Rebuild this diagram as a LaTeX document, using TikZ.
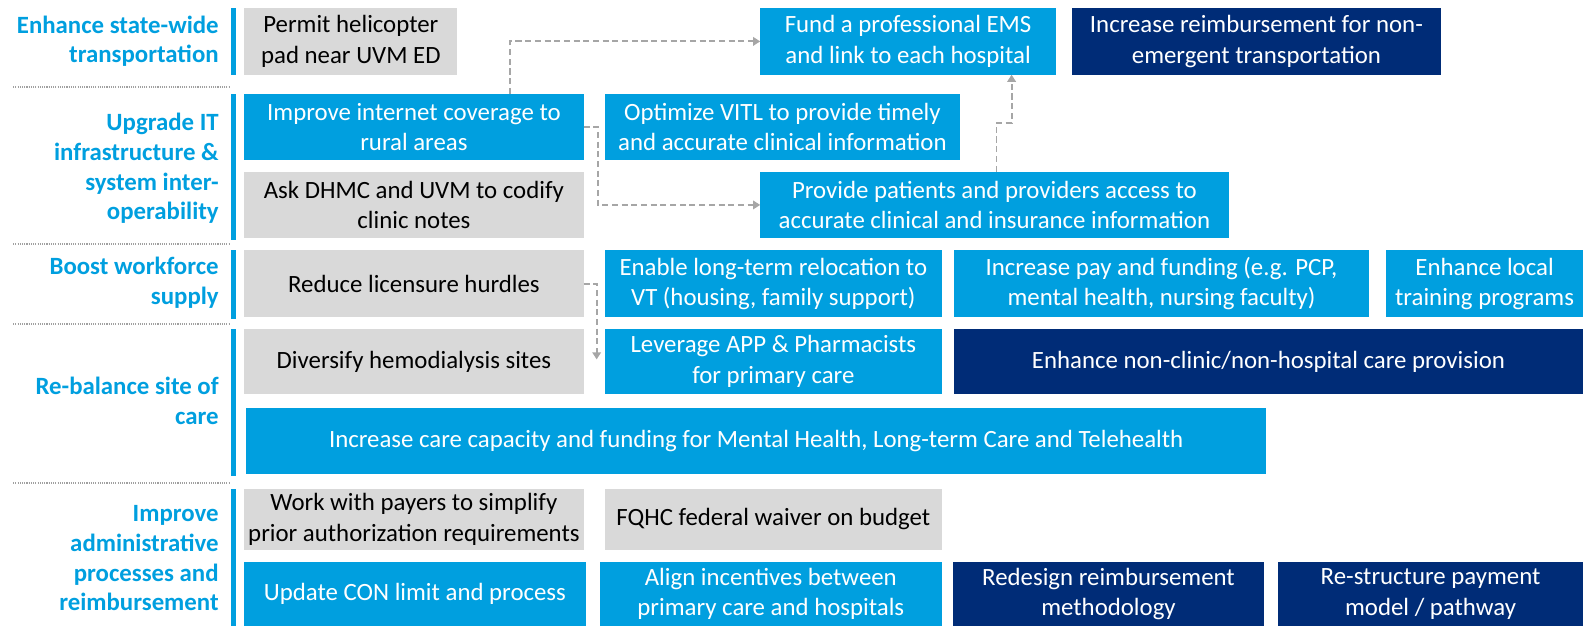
\documentclass[tikz,border=0pt]{standalone}
\usepackage{fontspec}
\setmainfont{Carlito}
\usetikzlibrary{arrows.meta,calc}

\definecolor{accent}{HTML}{009FDF}
\definecolor{navy}{HTML}{002C77}
\definecolor{boxgray}{HTML}{D9D9D9}
\definecolor{linkgray}{HTML}{A6A6A6}
\definecolor{sepgray}{HTML}{A0A0A0}

% box: name, style, x1, y1, x2, y2, text  (pixel grid, y downwards)
\newcommand\mkbox[7]{%
  \node[#2, minimum width={(#5-#3)*0.5pt}, minimum height={(#6-#4)*0.5pt}]
    (#1) at ({(#3+#5)/2},{(#4+#6)/2}) {#7};}

\tikzset{
  box/.style={inner sep=0pt, outer sep=0pt, align=center,
    font=\fontsize{12.3}{15}\selectfont},
  graybox/.style={box, fill=boxgray, text=black},
  bluebox/.style={box, fill=accent, text=white},
  navybox/.style={box, fill=navy, text=white},
  lbl/.style={inner sep=0pt, anchor=east, align=right, text=accent,
    font=\fontsize{12.3}{14.7}\selectfont\bfseries},
  bar/.style={fill=accent},
  sep/.style={draw=sepgray, line width=1pt, dash pattern=on 0.55pt off 0.55pt},
  link/.style={draw=linkgray, line width=0.9pt, dash pattern=on 3pt off 1.8pt,
    -{Triangle[length=3.5pt,width=4.2pt]}}
}

\begin{document}
\begin{tikzpicture}[x=0.5pt, y=-0.5pt]
\useasboundingbox (0,0) rectangle (1568,620);

% row labels and bars
\node[lbl] (l1) at (217,41) {Enhance state-wide\\transportation};
\node[lbl] (l2) at (217,167) {Upgrade IT\\infrastructure \&\\system inter-\\operability};
\node[lbl] (l3) at (217,280) {Boost workforce\\supply};
\node[lbl] (l4) at (217,397) {Re-balance site of\\care};
\node[lbl] (l5) at (217,553) {Improve\\administrative\\processes and\\reimbursement};

\fill[bar] (229,8) rectangle (233.5,74);
\fill[bar] (229,93) rectangle (233.5,238);
\fill[bar] (229,248) rectangle (233.5,316);
\fill[bar] (229,326) rectangle (233.5,471);
\fill[bar] (229,484) rectangle (233.5,620);

\draw[sep] (13,86) -- (228,86);
\draw[sep] (13,242) -- (228,242);
\draw[sep] (13,321) -- (228,321);
\draw[sep] (13,478) -- (228,478);

% transportation
\mkbox{helipad}{graybox}{242}{8}{453}{74}{Permit helicopter\\pad near UVM ED}
\mkbox{ems}{bluebox}{753}{8}{1046}{74}{Fund a professional EMS\\and link to each hospital}
\mkbox{nonemerg}{navybox}{1062}{8}{1427}{74}{Increase reimbursement for non-\\emergent transportation}

% IT infrastructure
\mkbox{internet}{bluebox}{242}{93}{578}{158}{Improve internet coverage to\\rural areas}
\mkbox{vitl}{bluebox}{599}{93}{951}{158}{Optimize VITL to provide timely\\and accurate clinical information}
\mkbox{dhmc}{graybox}{242}{170}{578}{236}{Ask DHMC and UVM to codify\\clinic notes}
\mkbox{access}{bluebox}{753}{170}{1217}{236}{Provide patients and providers access to\\accurate clinical and insurance information}

% workforce
\mkbox{licensure}{graybox}{242}{248}{578}{314}{Reduce licensure hurdles}
\mkbox{reloc}{bluebox}{599}{248}{933}{314}{Enable long-term relocation to\\VT (housing, family support)}
\mkbox{pay}{bluebox}{945}{248}{1356}{314}{Increase pay and funding (e.g. PCP,\\mental health, nursing faculty)}
\mkbox{training}{bluebox}{1373}{248}{1568}{314}{Enhance local\\training programs}

% site of care
\mkbox{dialysis}{graybox}{242}{326}{578}{390}{Diversify hemodialysis sites}
\mkbox{app}{bluebox}{599}{326}{933}{390}{Leverage APP \& Pharmacists\\for primary care}
\mkbox{nonclinic}{navybox}{945}{326}{1568}{390}{Enhance non-clinic/non-hospital care provision}
\mkbox{capacity}{bluebox}{244}{404}{1254}{470}{Increase care capacity and funding for Mental Health, Long-term Care and Telehealth}

% administration and reimbursement
\mkbox{payers}{graybox}{242}{484}{578}{545}{Work with payers to simplify\\prior authorization requirements}
\mkbox{fqhc}{graybox}{599}{484}{933}{545}{FQHC federal waiver on budget}
\mkbox{con}{bluebox}{242}{557}{580}{620}{Update CON limit and process}
\mkbox{align}{bluebox}{594}{557}{933}{620}{Align incentives between\\primary care and hospitals}
\mkbox{redesign}{navybox}{944}{557}{1252}{620}{Redesign reimbursement\\methodology}
\mkbox{restructure}{navybox}{1266}{557}{1568}{620}{Re-structure payment\\model / pathway}

% dependencies
\draw[link] ($(internet.north west)+(263,0)$) |- (ems.west);
\draw[link] (internet.east) -- ++(14,0) |- (access.west);
\draw[link] ($(access.north west)+(234,0)$) -- ++(0,-48.5) -| ($(ems.south west)+(249,0)$);
\draw[link] (licensure.east) -| ($(app.west)+(-8,-2)$);
\end{tikzpicture}
\end{document}
